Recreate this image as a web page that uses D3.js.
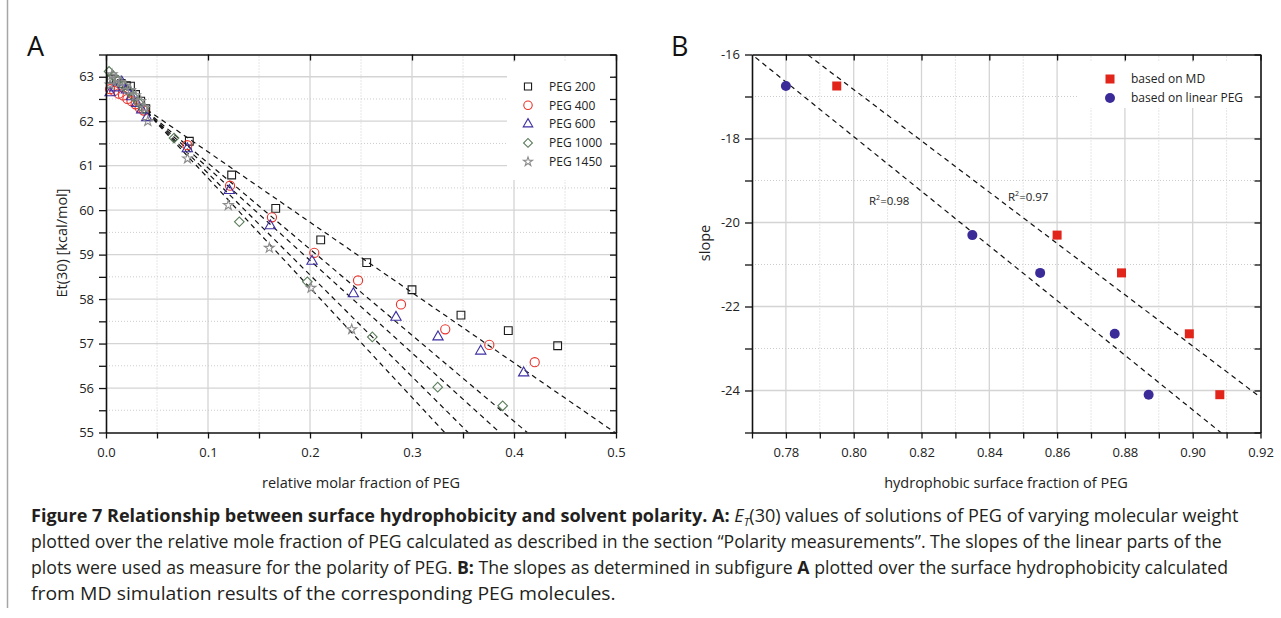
<!DOCTYPE html>
<html>
<head>
<meta charset="utf-8">
<script src="https://cdn.jsdelivr.net/npm/d3@7"></script>
<style>
body { margin: 0; background: #fff; }
svg { display: block; font-family: "Open Sans", sans-serif; }
.grid-major { stroke: #d4d4d4; stroke-width: 1.3; }
.grid-minor { stroke: #cccccc; stroke-width: 1; stroke-dasharray: 1,2; }
.axis path { stroke: #111; stroke-width: 1.6; }
.axis line { stroke: #111; stroke-width: 1.3; }
.fit { fill: none; stroke: #111; stroke-width: 1.2; stroke-dasharray: 5,4; }
.lbl { font-size: 12px; fill: #222; }
.ttl { font-size: 14.5px; fill: #222; }
</style>
</head>
<body>
<script>
// ---- panel A data: E_T(30) vs relative molar fraction ----
var pegNames = ["PEG 200", "PEG 400", "PEG 600", "PEG 1000", "PEG 1450"];

var peg200X = [0.005, 0.010, 0.015, 0.020, 0.024, 0.029, 0.034, 0.039, 0.0817, 0.1232, 0.1664, 0.2105, 0.2556, 0.300, 0.348, 0.3944, 0.4428];
var peg200Y = [62.95, 62.90, 62.85, 62.80, 62.79, 62.60, 62.45, 62.28, 61.55, 60.79, 60.04, 59.33, 58.82, 58.21, 57.64, 57.29, 56.95];

var peg400X = [0.004, 0.008, 0.0125, 0.0167, 0.021, 0.025, 0.029, 0.033, 0.037, 0.0797, 0.1216, 0.1627, 0.2042, 0.2471, 0.2892, 0.3326, 0.3758, 0.4203];
var peg400Y = [62.72, 62.68, 62.62, 62.58, 62.50, 62.45, 62.38, 62.30, 62.24, 61.46, 60.55, 59.84, 59.04, 58.42, 57.88, 57.32, 56.97, 56.58];

var peg600X = [0.004, 0.009, 0.0154, 0.020, 0.025, 0.030, 0.035, 0.040, 0.0797, 0.1209, 0.1611, 0.2020, 0.2425, 0.2843, 0.3255, 0.3674, 0.4095];
var peg600Y = [62.64, 62.75, 62.88, 62.70, 62.55, 62.40, 62.25, 62.08, 61.38, 60.44, 59.65, 58.85, 58.12, 57.59, 57.15, 56.83, 56.34];

var peg1000X = [0.003, 0.007, 0.012, 0.017, 0.022, 0.027, 0.032, 0.037, 0.0667, 0.1307, 0.1974, 0.2611, 0.3252, 0.3889];
var peg1000Y = [63.12, 63.02, 62.92, 62.80, 62.68, 62.55, 62.42, 62.28, 61.62, 59.74, 58.39, 57.15, 56.02, 55.60];

var peg1450X = [0.004, 0.006, 0.010, 0.014, 0.019, 0.024, 0.029, 0.034, 0.038, 0.041, 0.0799, 0.1199, 0.1601, 0.2010, 0.2409];
var peg1450Y = [62.82, 63.05, 62.95, 62.88, 62.80, 62.70, 62.58, 62.45, 62.30, 62.00, 61.16, 60.11, 59.15, 58.25, 57.32];

// dashed fits of the linear parts, ends
var fitX0 = [0.04, 0.04, 0.04, 0.04, 0.04];
var fitY0 = [62.26, 62.22, 62.20, 62.20, 62.20];
var fitX1 = [0.499, 0.413, 0.386, 0.355, 0.332];
var fitY1 = [55.0, 55.0, 55.0, 55.0, 55.0];

var aXTicks = [0, 0.1, 0.2, 0.3, 0.4, 0.5];
var aYTicks = [55, 56, 57, 58, 59, 60, 61, 62, 63];

// ---- panel B data: slope vs hydrophobic surface fraction ----
var slopeY = [-16.75, -20.3, -21.2, -22.65, -24.1];
var mdX = [0.795, 0.860, 0.879, 0.899, 0.908];
var linX = [0.780, 0.835, 0.855, 0.877, 0.887];
var seriesB = ["based on MD", "based on linear PEG"];
var r2Text = ["0.97", "0.98"];

var bXTicks = [0.78, 0.80, 0.82, 0.84, 0.86, 0.88, 0.90, 0.92];
var bYTicks = [-24, -22, -20, -18, -16];

var W = 1281, H = 618;
var svg = d3.select("body").append("svg").attr("width", W).attr("height", H);

// figure frame on the left
svg.append("line").attr("x1", 7.5).attr("x2", 7.5).attr("y1", 0).attr("y2", 608)
    .attr("stroke", "#a6a6a6").attr("stroke-width", 1.5);

function rnd(v) { return Math.round(v * 10000) / 10000; }
function steps(a, b, s) { return d3.range(0, Math.round((b - a) / s) + 1).map(function(i){ return rnd(a + i * s); }); }
function inList(v, list) { return list.some(function(t){ return Math.abs(t - v) < 1e-6; }); }

// grid + four axes for a panel
function frame(g, x, y, xMaj, xMinor, yMaj, yMinor, xFmt, yFmt) {
    var xd = x.domain(), yd = y.domain();
    var xs = steps(Math.ceil(xd[0] / xMinor - 1e-6) * xMinor, xd[1], xMinor);
    var ys = steps(Math.ceil(yd[0] / yMinor - 1e-6) * yMinor, yd[1], yMinor);

    g.append("g").selectAll("line").data(xs.filter(function(d){ return d > xd[0] + 1e-6 && d < xd[1] - 1e-6; }))
      .enter().append("line")
      .attr("class", function(d){ return inList(d, xMaj) ? "grid-major" : "grid-minor"; })
      .attr("x1", x).attr("x2", x).attr("y1", y.range()[0]).attr("y2", y.range()[1]);
    g.append("g").selectAll("line").data(ys.filter(function(d){ return d > yd[0] + 1e-6 && d < yd[1] - 1e-6; }))
      .enter().append("line")
      .attr("class", function(d){ return inList(d, yMaj) ? "grid-major" : "grid-minor"; })
      .attr("y1", y).attr("y2", y).attr("x1", x.range()[0]).attr("x2", x.range()[1]);

    return function() {
        var b = g.append("g").attr("class", "axis").attr("transform", "translate(0," + y.range()[0] + ")")
          .call(d3.axisBottom(x).tickValues(xs).tickSize(6).tickSizeOuter(0).tickPadding(9)
            .tickFormat(function(d){ return inList(d, xMaj) ? xFmt(d) : ""; }));
        var l = g.append("g").attr("class", "axis").attr("transform", "translate(" + x.range()[0] + ",0)")
          .call(d3.axisLeft(y).tickValues(ys).tickSize(7).tickSizeOuter(0).tickPadding(5)
            .tickFormat(function(d){ return inList(d, yMaj) ? yFmt(d) : ""; }));
        g.append("g").attr("class", "axis").attr("transform", "translate(0," + y.range()[1] + ")")
          .call(d3.axisTop(x).tickValues(xMaj).tickSize(-6).tickSizeOuter(0).tickFormat(""));
        g.append("g").attr("class", "axis").attr("transform", "translate(" + x.range()[1] + ",0)")
          .call(d3.axisRight(y).tickValues(ys).tickSize(-6).tickSizeOuter(0).tickFormat(""));
        [b, l].forEach(function(a) {
            a.selectAll("text").attr("font-size", 13).attr("font-family", "Open Sans, sans-serif").attr("fill", "#222");
        });
    };
}

// ================= panel A =================
var xA = d3.scaleLinear().domain([0, 0.5]).range([106, 616]);
var yA = d3.scaleLinear().domain([55, 63.5]).range([432.5, 54.5]);
var gA = svg.append("g");

svg.append("text").attr("x", 27).attr("y", 56).attr("font-size", 27).attr("fill", "#111").text("A");

var drawAxesA = frame(gA, xA, yA, aXTicks, 0.05, aYTicks, 0.5, d3.format(".1f"), function(d){ return String(d); });

// legend background
gA.append("rect").attr("x", 507).attr("y", 62).attr("width", 107).attr("height", 118).attr("fill", "#fff");

gA.append("clipPath").attr("id", "clipA").append("rect")
  .attr("x", 106).attr("y", 54.5).attr("width", 510).attr("height", 378);

var fitLines = fitX0.map(function(d, i){ return [[fitX0[i], fitY0[i]], [fitX1[i], fitY1[i]]]; });
var lineA = d3.line().x(function(d){ return xA(d[0]); }).y(function(d){ return yA(d[1]); });
gA.append("g").attr("clip-path", "url(#clipA)").selectAll("path").data(fitLines)
  .enter().append("path").attr("class", "fit").attr("d", lineA);

var symA = [
  { t: d3.symbolSquare,   s: 60, c: "#1a1a1a", rot: 0 },
  { t: d3.symbolCircle,   s: 66, c: "#e8332b", rot: 0 },
  { t: d3.symbolTriangle, s: 46, c: "#3c2fa2", rot: 0 },
  { t: d3.symbolSquare,   s: 46, c: "#5b7d5b", rot: 45 },
  { t: d3.symbolStar,     s: 30, c: "#8c8c8c", rot: 0 }
];
var xsA = [peg200X, peg400X, peg600X, peg1000X, peg1450X];
var ysA = [peg200Y, peg400Y, peg600Y, peg1000Y, peg1450Y];

xsA.forEach(function(xs, k) {
    var pts = xs.map(function(d, i){ return { x: d, y: ysA[k][i] }; });
    gA.append("g").selectAll("path").data(pts).enter().append("path")
      .attr("d", d3.symbol().type(symA[k].t).size(symA[k].s))
      .attr("transform", function(d){ return "translate(" + xA(d.x) + "," + yA(d.y) + ") rotate(" + symA[k].rot + ")"; })
      .attr("fill", "none").attr("stroke", symA[k].c).attr("stroke-width", 1.1);
});

// legend A
var legA = gA.append("g");
pegNames.forEach(function(name, k) {
    var yy = 86.5 + k * 18.8;
    legA.append("path").attr("d", d3.symbol().type(symA[k].t).size(symA[k].s * 0.85))
      .attr("transform", "translate(528," + yy + ") rotate(" + symA[k].rot + ")")
      .attr("fill", "none").attr("stroke", symA[k].c).attr("stroke-width", 1.1);
    legA.append("text").attr("class", "lbl").attr("x", 549).attr("y", yy).attr("dy", "0.36em").text(name);
});

drawAxesA();

svg.append("text").attr("class", "ttl").attr("x", 361).attr("y", 488).attr("text-anchor", "middle")
  .text("relative molar fraction of PEG");
svg.append("text").attr("class", "ttl").attr("transform", "translate(67,243) rotate(-90)")
  .attr("text-anchor", "middle").text("Et(30) [kcal/mol]");

// ================= panel B =================
var xB = d3.scaleLinear().domain([0.77, 0.92]).range([752, 1260.5]);
var yB = d3.scaleLinear().domain([-25, -16]).range([432.5, 54.5]);
var gB = svg.append("g");

svg.append("text").attr("x", 671).attr("y", 56).attr("font-size", 27).attr("fill", "#111").text("B");

var drawAxesB = frame(gB, xB, yB, bXTicks, 0.01, bYTicks, 1, d3.format(".2f"), function(d){ return String(d); });

gB.append("rect").attr("x", 1078).attr("y", 62).attr("width", 181).attr("height", 46).attr("fill", "#fff");

gB.append("clipPath").attr("id", "clipB").append("rect")
  .attr("x", 752).attr("y", 54.5).attr("width", 508.5).attr("height", 378);

// least squares fits of the two series
function fit(xs, ys) {
    var mx = d3.mean(xs), my = d3.mean(ys);
    var sxy = d3.sum(xs, function(d, i){ return (d - mx) * (ys[i] - my); });
    var sxx = d3.sum(xs, function(d){ return (d - mx) * (d - mx); });
    var b = sxy / sxx;
    return function(x){ return my + b * (x - mx); };
}
var fMD = fit(mdX, slopeY), fLin = fit(linX, slopeY);
var lineB = d3.line().x(function(d){ return xB(d[0]); }).y(function(d){ return yB(d[1]); });
[fMD, fLin].forEach(function(f) {
    gB.append("path").attr("class", "fit").attr("clip-path", "url(#clipB)")
      .attr("d", lineB([[0.74, f(0.74)], [0.95, f(0.95)]]));
});

gB.append("g").selectAll("rect").data(mdX).enter().append("rect")
  .attr("x", function(d){ return xB(d) - 4.5; })
  .attr("y", function(d, i){ return yB(slopeY[i]) - 4.5; })
  .attr("width", 9).attr("height", 9).attr("fill", "#e1251b");
gB.append("g").selectAll("circle").data(linX).enter().append("circle")
  .attr("cx", function(d){ return xB(d); })
  .attr("cy", function(d, i){ return yB(slopeY[i]); })
  .attr("r", 5).attr("fill", "#3a2b98");

// R^2 notes
[[1008, 201], [869, 205]].forEach(function(p, i) {
    var t = svg.append("text").attr("x", p[0]).attr("y", p[1]).attr("font-size", 11.5).attr("fill", "#222");
    t.append("tspan").text("R");
    t.append("tspan").attr("font-size", 7).attr("dy", -5).text("2");
    t.append("tspan").attr("dy", 5).text("=" + r2Text[i]);
});

// legend B
gB.append("rect").attr("x", 1105.5).attr("y", 74.5).attr("width", 9).attr("height", 9).attr("fill", "#e1251b");
gB.append("circle").attr("cx", 1110).attr("cy", 98).attr("r", 5).attr("fill", "#3a2b98");
seriesB.forEach(function(name, k) {
    gB.append("text").attr("class", "lbl").attr("x", 1131).attr("y", 79 + k * 19).attr("dy", "0.36em").text(name);
});

drawAxesB();

svg.append("text").attr("class", "ttl").attr("x", 1006).attr("y", 488).attr("text-anchor", "middle")
  .text("hydrophobic surface fraction of PEG");
svg.append("text").attr("class", "ttl").attr("transform", "translate(710,243) rotate(-90)")
  .attr("text-anchor", "middle").text("slope");

// ================= caption =================
var capLines = [
  [["b", "Figure 7 Relationship between surface hydrophobicity and solvent polarity. A: "], ["i", "E"], ["sub", "T"], ["n", "(30) values of solutions of PEG of varying molecular weight"]],
  [["n", "plotted over the relative mole fraction of PEG calculated as described in the section \u201cPolarity measurements\u201d. The slopes of the linear parts of the"]],
  [["n", "plots were used as measure for the polarity of PEG. "], ["b", "B:"], ["n", " The slopes as determined in subfigure "], ["b", "A"], ["n", " plotted over the surface hydrophobicity calculated"]],
  [["n", "from MD simulation results of the corresponding PEG molecules."]]
];
var capRight = [1240, 1222, 1229, 616];
var capBase = [522, 548, 574, 600];

capLines.forEach(function(parts, li) {
    var t = svg.append("text").attr("x", 0).attr("y", 0).attr("font-size", 17.5).attr("fill", "#231f20");
    var shifted = false;
    parts.forEach(function(p) {
        var s = t.append("tspan").text(p[1]);
        if (p[0] === "b") s.attr("font-weight", "bold");
        if (p[0] === "i") s.attr("font-style", "italic");
        if (p[0] === "sub") { s.attr("font-style", "italic").attr("font-size", 11).attr("dy", 4); shifted = true; }
        else if (shifted) { s.attr("dy", -4); shifted = false; }
    });
    var w = t.node().getComputedTextLength();
    var sx = (capRight[li] - 31) / w;
    t.attr("transform", "translate(31," + capBase[li] + ") scale(" + sx + ",1)");
});
</script>
</body>
</html>
